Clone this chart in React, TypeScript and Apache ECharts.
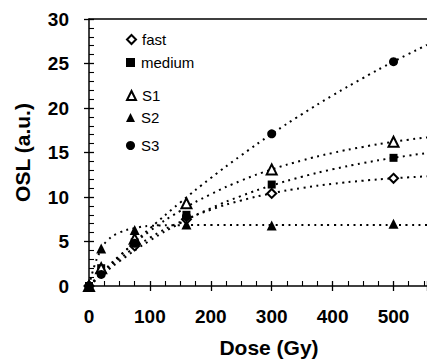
import React, { useEffect, useRef } from "react";
import * as echarts from "echarts";

const seriesNames = ["fast", "medium", "S1", "S2", "S3"];
const symbols = ["emptyDiamond", "rect", "emptyTriangle", "triangle", "circle"];
const symbolSizes = [9, 8, 10, 10, 9];

// measured points [dose, OSL]
const fastPts = [[0, 0], [20, 1.5], [75, 4.5], [160, 7.5], [300, 10.4], [500, 12.1]];
const mediumPts = [[0, 0], [20, 2.0], [75, 4.9], [160, 8.0], [300, 11.4], [500, 14.4]];
const s1Pts = [[0, 0], [20, 2.0], [75, 5.3], [160, 9.3], [300, 13.1], [500, 16.2]];
const s2Pts = [[0, 0], [20, 4.2], [75, 6.3], [160, 6.9], [300, 6.8], [500, 7.0]];
const s3Pts = [[0, 0], [20, 1.3], [75, 4.8], [160, 7.8], [300, 17.1], [500, 25.2]];

// fitted curves
const fitX = [0, 25, 50, 100, 150, 200, 250, 300, 350, 400, 450, 500, 555];
const fastFit = [0, 1.64, 3.07, 5.42, 7.2, 8.57, 9.61, 10.41, 11.01, 11.48, 11.83, 12.1, 12.32];
const mediumFit = [0, 1.45, 2.78, 5.11, 7.07, 8.73, 10.12, 11.29, 12.28, 13.11, 13.81, 14.4, 14.94];
const s1Fit = [0, 1.78, 3.4, 6.18, 8.45, 10.31, 11.84, 13.09, 14.11, 14.95, 15.63, 16.2, 16.7];
const s3Fit = [0, 1.7, 3.34, 6.47, 9.39, 12.13, 14.68, 17.08, 19.32, 21.41, 23.37, 25.21, 27.09];
const s2FitX = [0, 10, 20, 30, 50, 75, 100, 150, 200, 300, 400, 500, 555];
const s2Fit = [0, 2.5, 4.09, 5.1, 6.0, 6.5, 6.75, 6.84, 6.85, 6.85, 6.85, 6.85, 6.85];

const legendCenters = [40, 63, 96, 118, 146];

const FONT = "'Liberation Sans', Arial, Helvetica, sans-serif";

export default function App() {
  const ref = useRef<HTMLDivElement>(null);
  useEffect(() => {
    if (!ref.current) return;
    const chart = echarts.init(ref.current, null, { renderer: "svg" });
    const pts = [fastPts, mediumPts, s1Pts, s2Pts, s3Pts];
    const fits = [
      fitX.map((x, i) => [x, fastFit[i]]),
      fitX.map((x, i) => [x, mediumFit[i]]),
      fitX.map((x, i) => [x, s1Fit[i]]),
      s2FitX.map((x, i) => [x, s2Fit[i]]),
      fitX.map((x, i) => [x, s3Fit[i]]),
    ];
    const fitSeries = fits.map((d, i) => ({
      type: "line",
      name: "fit" + i,
      data: d,
      smooth: true,
      symbol: "none",
      silent: true,
      clip: true,
      lineStyle: { color: "#000", width: 2, type: [2, 4.5] },
      z: 1,
    }));
    const scatterSeries = pts.map((d, i) => ({
      type: "scatter",
      name: seriesNames[i],
      data: d,
      symbol: symbols[i],
      symbolSize: symbolSizes[i],
      clip: false,
      itemStyle: {
        color: "#000",
        opacity: 1,
        borderColor: "#000",
        borderWidth: symbols[i].startsWith("empty") ? 1.6 : 0,
      },
      z: 3,
    }));
    const axisLine = { show: true, lineStyle: { color: "#000", width: 1.5 } };
    const option = {
      animation: false,
      backgroundColor: "#fff",
      textStyle: { fontFamily: FONT, color: "#000" },
      grid: { left: 89, top: 19, width: 338, height: 270 },
      legend: seriesNames.map((n, i) => ({
        data: [n],
        left: 126,
        top: legendCenters[i] - 8,
        padding: 0,
        itemWidth: 9,
        itemHeight: 9,
        itemGap: 4,
        selectedMode: false,
        textStyle: { fontFamily: FONT, fontSize: 15, color: "#000", padding: [0, 0, 0, 1] },
      })),
      xAxis: [
        {
          type: "value",
          min: 0,
          max: 555,
          interval: 100,
          position: "bottom",
          axisLine,
          axisTick: { show: true, inside: true, length: 5, lineStyle: { color: "#000", width: 1.3 } },
          minorTick: { show: true, splitNumber: 4, length: 5, lineStyle: { color: "#000", width: 1.1 } },
          splitLine: { show: false },
          axisLabel: { show: true, margin: 21, fontSize: 19, fontWeight: "bold", color: "#000", fontFamily: FONT, showMaxLabel: false },
          name: "Dose (Gy)",
          nameLocation: "middle",
          nameGap: 51,
          nameTextStyle: { fontSize: 21, fontWeight: "bold", color: "#000", fontFamily: FONT, padding: [0, 0, 0, 22] },
        },
        {
          type: "value",
          min: 0,
          max: 555,
          interval: 100,
          position: "bottom",
          axisLine: { show: false },
          axisTick: { show: true, inside: false, length: 5, lineStyle: { color: "#000", width: 1.3 } },
          axisLabel: { show: false },
          splitLine: { show: false },
        },
        {
          type: "value",
          min: 0,
          max: 555,
          position: "top",
          axisLine,
          axisTick: { show: false },
          axisLabel: { show: false },
          splitLine: { show: false },
        },
      ],
      yAxis: [
        {
          type: "value",
          min: 0,
          max: 30,
          interval: 5,
          position: "left",
          axisLine,
          axisTick: { show: true, inside: true, length: 5, lineStyle: { color: "#000", width: 1.3 } },
          minorTick: { show: true, splitNumber: 5, length: 5, lineStyle: { color: "#000", width: 1.1 } },
          splitLine: { show: false },
          axisLabel: { margin: 20, fontSize: 19, fontWeight: "bold", color: "#000", fontFamily: FONT },
          name: "OSL (a.u.)",
          nameLocation: "middle",
          nameGap: 56,
          nameTextStyle: { fontSize: 21, fontWeight: "bold", color: "#000", fontFamily: FONT },
        },
        {
          type: "value",
          min: 0,
          max: 30,
          interval: 5,
          position: "left",
          axisLine: { show: false },
          axisTick: { show: true, inside: false, length: 5, lineStyle: { color: "#000", width: 1.3 } },
          axisLabel: { show: false },
          splitLine: { show: false },
        },
      ],
      series: [...fitSeries, ...scatterSeries],
    };
    chart.setOption(option as any);
    return () => chart.dispose();
  }, []);
  return (
    <div
      ref={ref}
      style={{ position: "fixed", left: 0, top: 0, width: 427, height: 363, background: "#fff" }}
    />
  );
}
